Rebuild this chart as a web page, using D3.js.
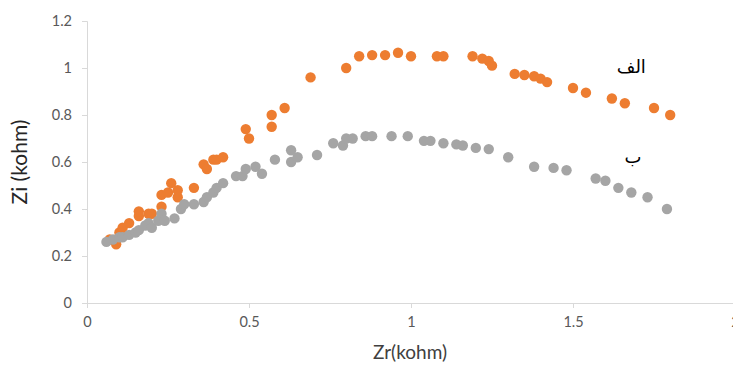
<!DOCTYPE html>
<html>
<head>
<meta charset="utf-8">
<script src="https://cdn.jsdelivr.net/npm/d3@7"></script>
<style>
  body { margin: 0; background: #fff; }
  svg { display: block; font-family: Lato, "Open Sans", sans-serif; }
</style>
</head>
<body>
<div class="chart"></div>
<script>
// series الف (orange)
const zrA = [0.07, 0.09, 0.10, 0.11, 0.13, 0.16, 0.16, 0.19, 0.20, 0.23, 0.23, 0.25, 0.26, 0.28, 0.28, 0.33,
  0.36, 0.37, 0.39, 0.40, 0.42, 0.49, 0.50, 0.57, 0.57, 0.61, 0.69, 0.80, 0.84, 0.88, 0.92, 0.96, 1.00,
  1.08, 1.10, 1.19, 1.22, 1.24, 1.25, 1.32, 1.35, 1.38, 1.40, 1.42, 1.50, 1.54, 1.62, 1.66, 1.75, 1.80];
const ziA = [0.27, 0.25, 0.30, 0.32, 0.34, 0.37, 0.39, 0.38, 0.38, 0.41, 0.46, 0.47, 0.51, 0.45, 0.48, 0.49,
  0.59, 0.57, 0.61, 0.61, 0.62, 0.74, 0.70, 0.75, 0.80, 0.83, 0.96, 1.00, 1.05, 1.055, 1.055, 1.065, 1.05,
  1.05, 1.05, 1.05, 1.04, 1.03, 1.01, 0.975, 0.97, 0.965, 0.955, 0.94, 0.915, 0.895, 0.87, 0.85, 0.83, 0.80];

// series ب (gray)
const zrB = [0.06, 0.08, 0.10, 0.11, 0.13, 0.15, 0.16, 0.18, 0.19, 0.20, 0.22, 0.23, 0.24, 0.27, 0.29, 0.30,
  0.33, 0.36, 0.37, 0.39, 0.40, 0.42, 0.46, 0.48, 0.49, 0.52, 0.54, 0.58, 0.63, 0.63, 0.65, 0.71, 0.76,
  0.79, 0.80, 0.82, 0.86, 0.88, 0.94, 0.99, 1.04, 1.06, 1.10, 1.14, 1.16, 1.20, 1.24, 1.30, 1.38, 1.44,
  1.48, 1.57, 1.60, 1.64, 1.68, 1.73, 1.79];
const ziB = [0.26, 0.27, 0.28, 0.28, 0.29, 0.30, 0.31, 0.33, 0.34, 0.32, 0.35, 0.38, 0.35, 0.36, 0.40, 0.42,
  0.42, 0.43, 0.45, 0.47, 0.49, 0.51, 0.54, 0.54, 0.57, 0.58, 0.55, 0.61, 0.60, 0.65, 0.62, 0.63, 0.68,
  0.67, 0.70, 0.70, 0.71, 0.71, 0.71, 0.71, 0.69, 0.69, 0.68, 0.675, 0.67, 0.66, 0.655, 0.62, 0.58, 0.575,
  0.565, 0.53, 0.52, 0.49, 0.47, 0.45, 0.40];

const xTicks = [0, 0.5, 1, 1.5, 2];
const yTicks = [0, 0.2, 0.4, 0.6, 0.8, 1, 1.2];

const series = [
  { name: "الف", zr: zrA, zi: ziA, colour: "#ED7D31", labelAt: [1.68, 1.0] },
  { name: "ب", zr: zrB, zi: ziB, colour: "#A5A5A5", labelAt: [1.685, 0.615] },
];

const width = 733;
const height = 365;
const axisColour = "#D9D9D9";
const textColour = "#595959";

const svg = d3.select(".chart").append("svg")
  .attr("width", width)
  .attr("height", height);

const xScale = d3.scaleLinear().domain([0, 2]).range([87, 735]);
const yScale = d3.scaleLinear().domain([0, 1.2]).range([303, 21]);

// Axes
svg.append("g")
  .attr("transform", `translate(0, ${yScale(0)})`)
  .call(d3.axisBottom(xScale).tickValues(xTicks).tickFormat(d3.format("")).tickSize(5).tickPadding(9));

svg.append("g")
  .attr("transform", `translate(${xScale(0)}, 0)`)
  .call(d3.axisLeft(yScale).tickValues(yTicks).tickFormat(d3.format("")).tickSize(5).tickPadding(10));

svg.selectAll(".domain").attr("stroke", axisColour);
svg.selectAll(".tick line").attr("stroke", axisColour);
svg.selectAll(".tick text")
  .attr("fill", textColour)
  .attr("font-size", "14.5px")
  .attr("font-family", "Lato, 'Open Sans', sans-serif");

// Points + series labels
series.forEach((s) => {
  svg.append("g")
    .selectAll("circle")
    .data(s.zr.map((x, i) => [x, s.zi[i]]))
    .join("circle")
    .attr("cx", (d) => xScale(d[0]))
    .attr("cy", (d) => yScale(d[1]))
    .attr("r", 5.2)
    .attr("fill", s.colour);

  svg.append("text")
    .attr("x", xScale(s.labelAt[0]))
    .attr("y", yScale(s.labelAt[1]))
    .attr("text-anchor", "middle")
    .attr("dominant-baseline", "middle")
    .attr("font-size", "18px")
    .attr("font-family", "'DejaVu Sans', sans-serif")
    .attr("fill", "#000")
    .text(s.name);
});

// Axis titles
svg.append("text")
  .attr("x", 410)
  .attr("y", 354)
  .attr("text-anchor", "middle")
  .attr("dominant-baseline", "middle")
  .attr("font-size", "19px")
  .attr("fill", "#404040")
  .text("Zr(kohm)");

svg.append("text")
  .attr("transform", "translate(22, 162) rotate(-90)")
  .attr("text-anchor", "middle")
  .attr("dominant-baseline", "middle")
  .attr("font-size", "21px")
  .attr("fill", "#262626")
  .text("Zi (kohm)");
</script>
</body>
</html>
